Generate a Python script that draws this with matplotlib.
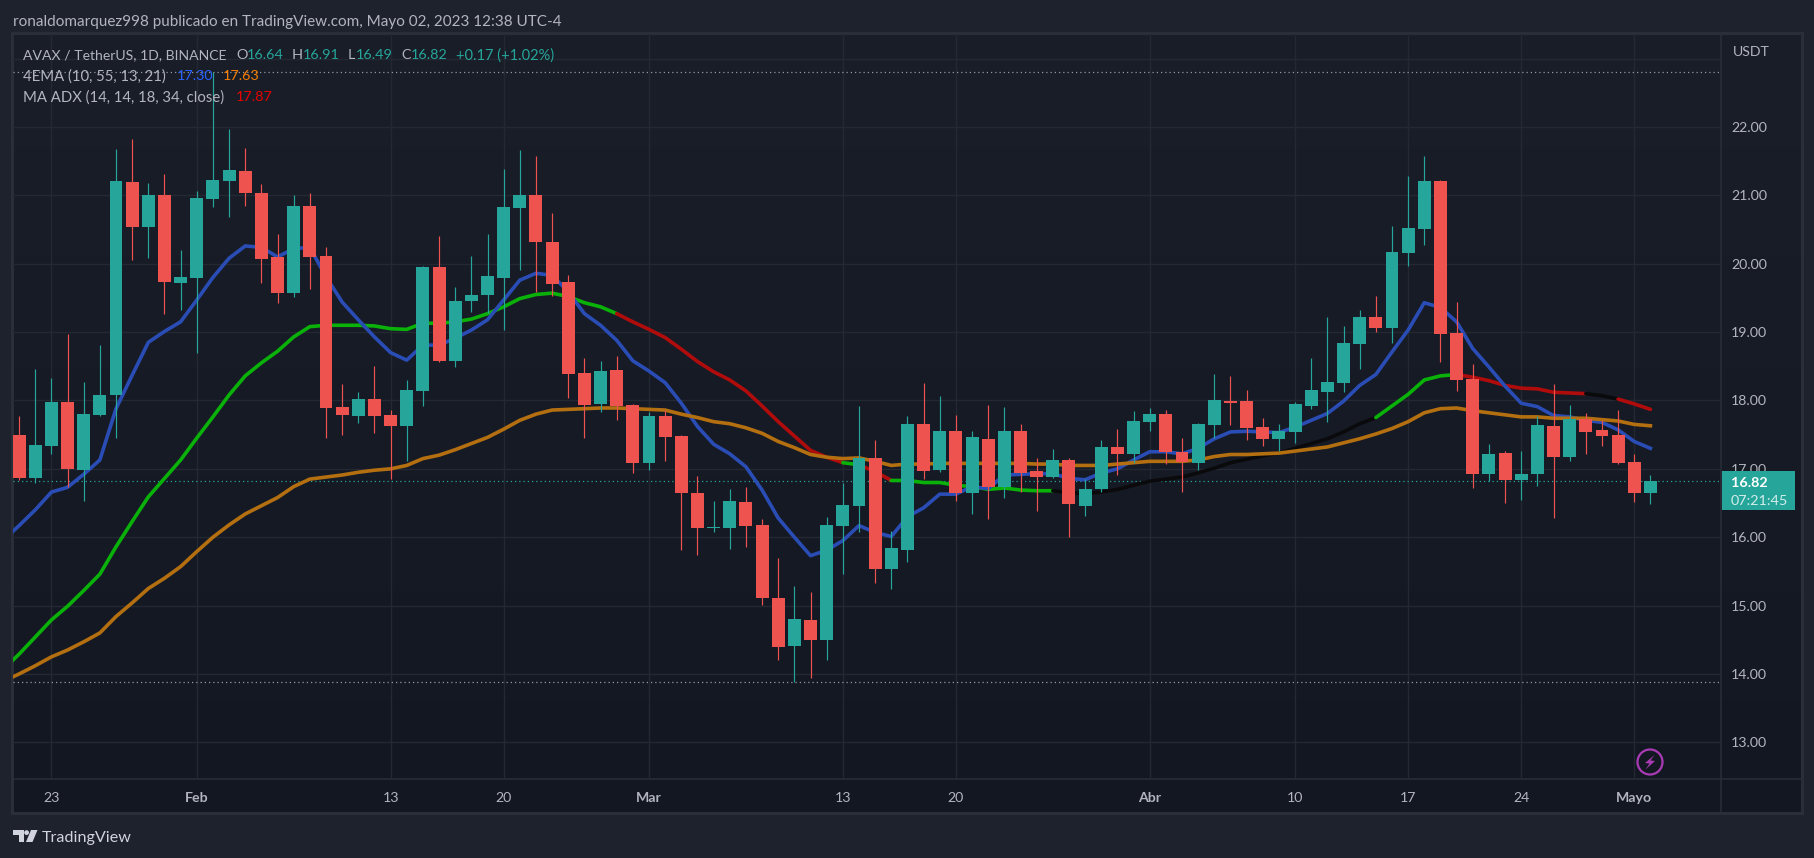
import numpy as np
import matplotlib
matplotlib.use("Agg")
import matplotlib.pyplot as plt
from matplotlib.patches import Rectangle, Circle, Polygon

plt.rcParams['font.family'] = ['Lato', 'DejaVu Sans']

# ---- data: days counted from 23 Jan 2023 ----
first_candle_day = -2
opens = [17.49,16.86,17.33,17.98,16.98,17.79,18.08,21.19,20.54,21.00,19.72,19.79,20.95,21.21,21.36,21.03,20.10,19.57,20.84,20.11,
         17.90,17.77,18.02,17.79,17.63,18.14,19.95,18.58,19.45,19.54,19.79,20.81,21.00,20.32,19.73,18.40,17.95,18.44,17.93,17.08,
         17.77,17.48,16.65,16.13,16.14,16.52,16.18,15.11,14.41,14.79,14.50,16.17,16.45,17.16,15.54,15.82,17.65,16.98,17.55,16.64,
         17.44,16.73,17.55,16.97,16.88,17.13,16.46,16.70,17.32,17.22,17.68,17.80,17.24,17.08,17.64,17.99,17.99,17.61,17.43,17.54,
         17.92,18.12,18.25,18.82,19.22,19.06,20.16,20.51,21.21,18.99,18.31,16.92,17.23,16.83,16.92,17.62,17.17,17.73,17.57,17.49,
         17.10,16.64]
highs = [17.77,18.46,18.33,18.97,18.27,18.81,21.68,21.82,21.18,21.31,20.20,21.06,22.80,21.97,21.69,21.17,20.43,21.00,21.03,20.24,
         18.24,18.12,18.50,17.86,18.30,19.97,20.40,19.66,20.11,20.43,21.39,21.66,21.57,20.74,19.83,18.62,18.58,18.65,17.95,17.83,
         17.86,17.50,16.90,16.53,16.71,16.74,16.27,15.70,15.29,15.20,16.30,16.80,17.92,17.42,16.09,17.77,18.26,18.07,17.79,17.55,
         17.93,17.90,17.65,17.16,17.29,17.16,16.85,17.42,17.58,17.85,17.89,17.86,17.45,17.67,18.39,18.36,18.15,17.74,17.65,17.98,
         18.62,19.22,19.09,19.32,19.53,20.55,21.28,21.58,21.22,19.44,18.53,17.36,17.26,17.26,17.77,18.24,17.93,17.81,17.71,17.86,
         17.21,16.91]
lows = [16.83,16.80,17.21,16.74,16.53,17.78,17.45,20.05,20.08,19.26,19.32,18.70,20.83,20.69,20.84,19.72,19.43,19.51,19.63,17.45,
        17.49,17.67,17.52,16.85,17.11,17.92,18.56,18.49,19.29,19.28,19.03,19.91,19.59,19.53,18.04,17.45,17.83,17.71,16.94,16.98,
        17.11,15.81,15.74,16.07,15.83,15.86,15.01,14.20,13.88,13.94,14.20,15.46,16.08,15.33,15.24,15.64,16.85,16.96,16.53,16.34,
        16.27,16.57,16.66,16.38,16.86,16.00,16.31,16.66,16.91,17.08,17.55,17.07,16.66,16.98,17.45,17.64,17.42,17.33,17.26,17.38,
        17.87,17.68,18.12,18.46,19.00,18.84,19.97,20.27,18.56,18.14,16.72,16.82,16.50,16.54,16.75,16.28,17.11,17.21,17.33,17.07,
        16.51,16.49]
closes = [16.86,17.35,17.98,17.00,17.80,18.08,21.21,20.54,21.00,19.73,19.80,20.96,21.22,21.37,21.03,20.07,19.57,20.84,20.10,17.89,
          17.79,18.02,17.77,17.63,18.15,19.95,18.58,19.45,19.54,19.82,20.83,21.00,20.32,19.70,18.39,17.93,18.43,17.92,17.08,17.77,
          17.46,16.64,16.13,16.15,16.53,16.17,15.11,14.40,14.80,14.50,16.18,16.47,17.16,15.54,15.84,17.65,16.97,17.55,16.64,17.46,
          16.73,17.55,16.94,16.88,17.13,16.48,16.71,17.32,17.22,17.70,17.80,17.24,17.10,17.65,18.00,17.96,17.60,17.43,17.55,17.95,
          18.15,18.27,18.84,19.22,19.06,20.17,20.52,21.21,18.97,18.30,16.92,17.21,16.83,16.92,17.64,17.17,17.73,17.54,17.48,17.08,
          16.64,16.82]

first_line_day = -3
ema_blue = [15.95,16.17,16.40,16.66,16.73,16.92,17.13,17.88,18.37,18.85,19.01,19.15,19.47,19.80,20.08,20.26,20.24,20.10,20.22,20.24,
            19.81,19.44,19.18,18.93,18.70,18.59,18.81,18.81,18.91,19.03,19.18,19.47,19.76,19.86,19.83,19.59,19.27,19.10,18.88,18.58,
            18.43,18.26,17.96,17.62,17.36,17.22,17.03,16.69,16.28,16.00,15.73,15.81,15.95,16.17,16.07,16.01,16.30,16.43,16.63,16.63,
            16.74,16.71,16.91,16.92,16.93,16.93,16.86,16.84,16.94,17.00,17.13,17.25,17.25,17.22,17.30,17.44,17.54,17.55,17.54,17.53,
            17.61,17.71,17.81,17.99,18.22,18.38,18.71,19.03,19.43,19.36,19.15,18.76,18.49,18.21,17.96,17.91,17.78,17.76,17.71,17.68,
            17.57,17.40,17.30]
ema_trend = [14.06,14.29,14.54,14.79,14.99,15.22,15.46,15.86,16.23,16.59,16.86,17.13,17.45,17.76,18.08,18.36,18.55,18.72,18.93,19.08,
             19.10,19.10,19.10,19.09,19.05,19.04,19.13,19.13,19.15,19.19,19.27,19.37,19.49,19.55,19.57,19.52,19.43,19.37,19.27,19.15,
             19.04,18.92,18.75,18.57,18.42,18.30,18.14,17.92,17.69,17.48,17.27,17.17,17.09,17.06,16.96,16.83,16.83,16.80,16.80,16.76,
             16.74,16.70,16.72,16.69,16.68,16.68,16.65,16.64,16.66,16.70,16.76,16.82,16.85,16.88,16.94,17.01,17.09,17.14,17.19,17.23,
             17.30,17.37,17.44,17.54,17.66,17.75,17.92,18.09,18.30,18.36,18.38,18.34,18.29,18.22,18.18,18.17,18.12,18.11,18.10,18.07,
             18.02,17.95,17.87]
ema_orange = [13.89,14.00,14.12,14.25,14.35,14.47,14.60,14.84,15.04,15.25,15.40,15.57,15.79,16.00,16.18,16.34,16.46,16.58,16.74,16.85,
              16.88,16.91,16.95,16.98,17.00,17.05,17.15,17.20,17.28,17.37,17.46,17.58,17.71,17.80,17.86,17.87,17.88,17.89,17.89,17.88,
              17.87,17.86,17.80,17.75,17.69,17.66,17.60,17.52,17.40,17.31,17.21,17.17,17.15,17.16,17.11,17.05,17.07,17.07,17.08,17.08,
              17.08,17.08,17.08,17.08,17.07,17.07,17.05,17.05,17.05,17.07,17.09,17.11,17.11,17.11,17.13,17.18,17.21,17.21,17.22,17.23,
              17.26,17.29,17.32,17.38,17.44,17.51,17.59,17.69,17.82,17.88,17.89,17.85,17.82,17.79,17.76,17.76,17.74,17.74,17.74,17.72,
              17.70,17.65,17.63]
trend_days = [(-3, 35), (35, 49), (49, 50), (50, 52), (52, 62), (62, 82), (82, 87), (87, 95), (95, 97), (97, 99)]
trend_names = ['up', 'down', 'up', 'down', 'up', 'flat', 'up', 'down', 'flat', 'down']

x_tick_days = [0, 9, 21, 28, 37, 49, 56, 68, 77, 84, 91, 98]
x_tick_labels = ['23', 'Feb', '13', '20', 'Mar', '13', '20', 'Abr', '10', '17', '24', 'Mayo']
bold_labels = {'Feb', 'Mar', 'Abr', 'Mayo'}
y_tick_values = [13, 14, 15, 16, 17, 18, 19, 20, 21, 22, 23]
y_tick_labels = ['13.00', '14.00', '15.00', '16.00', '17.00', '18.00', '19.00', '20.00', '21.00', '22.00', '']
period_high = 22.80
period_low = 13.88
last_price = 16.82

# ---- styles ----
OUTER = '#1e222d'
BORDER = '#2a2e39'
GRID = '#242832'
TXT = '#b2b5be'
UP = '#26a69a'
DOWN = '#ef5350'
TREND = {'up': '#09b109', 'down': '#b00c0c', 'flat': '#0a0a0c'}

W, H = 1814, 858
fig = plt.figure(figsize=(W / 100, H / 100), dpi=100, facecolor=OUTER)

# background layer in pixel coordinates
bg = fig.add_axes([0, 0, 1, 1], zorder=0)
bg.set_xlim(0, W); bg.set_ylim(H, 0); bg.axis('off')
top_rgb = np.array([0x1a, 0x1e, 0x29])
bottom_rgb = np.array([0x13, 0x17, 0x22])
grad = np.linspace(0, 1, 256)[:, None, None] * (bottom_rgb - top_rgb) + top_rgb
bg.imshow(grad / 255, extent=(13, 1801, 813, 33), aspect='auto', zorder=0)
bg.set_xlim(0, W); bg.set_ylim(H, 0)
bg.add_patch(Rectangle((12, 33), 1790, 780, fill=False, ec=BORDER, lw=2.2, zorder=1))
bg.plot([1721, 1721], [33, 813], color=BORDER, lw=1.1, zorder=1)
bg.plot([13, 1801], [779, 779], color=BORDER, lw=1.1, zorder=1)

# main chart
L, R, T, B = 13, 1721, 34, 779
ax = fig.add_axes([L / W, 1 - B / H, (R - L) / W, (B - T) / H], zorder=1)
ax.patch.set_alpha(0)
ax.set_xlim(-2.378, 103.37)
ax.set_ylim(22 - (B - 127) / 68.37, 22 + (127 - T) / 68.37)
for s in ax.spines.values():
    s.set_visible(False)
ax.set_xticks(x_tick_days)
ax.set_xticklabels(x_tick_labels, fontsize=10.2, color=TXT)
for lab in ax.get_xticklabels():
    if lab.get_text() in bold_labels:
        lab.set_fontweight('bold')
ax.yaxis.tick_right()
ax.set_yticks(y_tick_values)
ax.set_yticklabels(y_tick_labels, fontsize=10.2, color=TXT)
ax.tick_params(axis='x', length=0, pad=9.5)
ax.tick_params(axis='y', length=0, pad=7.2)
ax.grid(True, color=GRID, lw=1.0)
ax.set_axisbelow(True)

ax.axhline(period_high, color='#9598a1', lw=0.9, ls=(0, (1, 2.4)), zorder=1.5)
ax.axhline(period_low, color='#9598a1', lw=0.9, ls=(0, (1, 2.4)), zorder=1.5)
ax.axhline(last_price, color=UP, lw=0.9, ls=(0, (1, 2.4)), zorder=1.5)

line_days = np.arange(first_line_day, first_line_day + len(ema_blue))
lw_line = 2.6
ax.plot(line_days, ema_blue, color='#2a4db5', lw=lw_line, zorder=2.2, solid_joinstyle='round')
trend_days_arr = np.arange(first_line_day, first_line_day + len(ema_trend))
trend_arr = np.array(ema_trend)
for (a, b), name in zip(trend_days, trend_names):
    m = (trend_days_arr >= a) & (trend_days_arr <= b)
    ax.plot(trend_days_arr[m], trend_arr[m], color=TREND[name], lw=lw_line, zorder=2.1,
            solid_capstyle='round', solid_joinstyle='round')
ax.plot(np.arange(first_line_day, first_line_day + len(ema_orange)), ema_orange,
        color='#b36f10', lw=lw_line, zorder=2.3, solid_joinstyle='round')

days = np.arange(first_candle_day, first_candle_day + len(opens))
o, h, l, c = map(np.array, (opens, highs, lows, closes))
colors = [UP if ci >= oi else DOWN for oi, ci in zip(o, c)]
ax.vlines(days, l, h, colors=colors, lw=0.85, zorder=3)
body_bottom = np.minimum(o, c)
body_height = np.maximum(np.abs(c - o), 0.02)
ax.bar(days, body_height, bottom=body_bottom, width=0.8, color=colors, lw=0, zorder=3.1)

# overlay in pixel coordinates
ov = fig.add_axes([0, 0, 1, 1], zorder=2)
ov.set_xlim(0, W); ov.set_ylim(H, 0); ov.axis('off'); ov.patch.set_alpha(0)

def put(x, y, s, color=TXT, size=10.2, **kw):
    ov.text(x, y, s, color=color, fontsize=size, va='center_baseline', ha='left', **kw)

put(13, 20.5, 'ronaldomarquez998 publicado en TradingView.com, Mayo 02, 2023 12:38 UTC-4', size=10.95)
put(23, 54, 'AVAX / TetherUS, 1D, BINANCE', size=10.1)
put(236, 54, 'O', size=10.4); put(247, 54, '16.64', UP, 10.4)
put(292, 54, 'H', size=10.4); put(302.5, 54, '16.91', UP, 10.4)
put(348, 54, 'L', size=10.4); put(356, 54, '16.49', UP, 10.4)
put(401, 54, 'C', size=10.4); put(411, 54, '16.82', UP, 10.4)
put(456.5, 54, '+0.17 (+1.02%)', UP, 10.5)
put(23, 75, '4EMA (10, 55, 13, 21)', size=10.7)
put(176.7, 75, '17.30', '#2962ff', 10.4); put(222.6, 75, '17.63', '#f57c00', 10.4)
put(23, 96, 'MA ADX (14, 14, 18, 34, close)', size=10.75)
put(235.6, 96, '17.87', '#e60000', 10.4)
put(1733, 51, 'USDT', size=10.2)

# last price tag
ov.add_patch(Rectangle((1721.5, 471), 73.5, 39, fc=UP, ec='none', zorder=5))
put(1731, 482, '16.82', '#ffffff', 10.4, zorder=6, fontweight='bold')
put(1731, 500, '07:21:45', '#d4edeb', 10.4, zorder=6)

# bolt badge
ov.add_patch(Circle((1650, 762), 12.5, fc='none', ec='#a93bb5', lw=1.6, zorder=5))
ov.add_patch(Polygon([(1654.5, 755), (1645, 763), (1649.5, 763.5), (1645.5, 769.5), (1655, 761), (1650.5, 760.5)],
                     closed=True, fc='#a93bb5', ec='none', zorder=5))

# TradingView logo
logo = '#d1d4dc'
ov.add_patch(Polygon([(13, 830), (24, 830), (24, 842), (18.5, 842), (18.5, 835), (13, 835)], closed=True, fc=logo, ec='none'))
ov.add_patch(Circle((26.6, 832.6), 2.4, fc=logo, ec='none'))
ov.add_patch(Polygon([(31, 830), (37.5, 830), (32.5, 842), (26, 842)], closed=True, fc=logo, ec='none'))
put(42, 836.5, 'TradingView', logo, 11.6)

fig.savefig('out.png', dpi=100, facecolor=OUTER)
